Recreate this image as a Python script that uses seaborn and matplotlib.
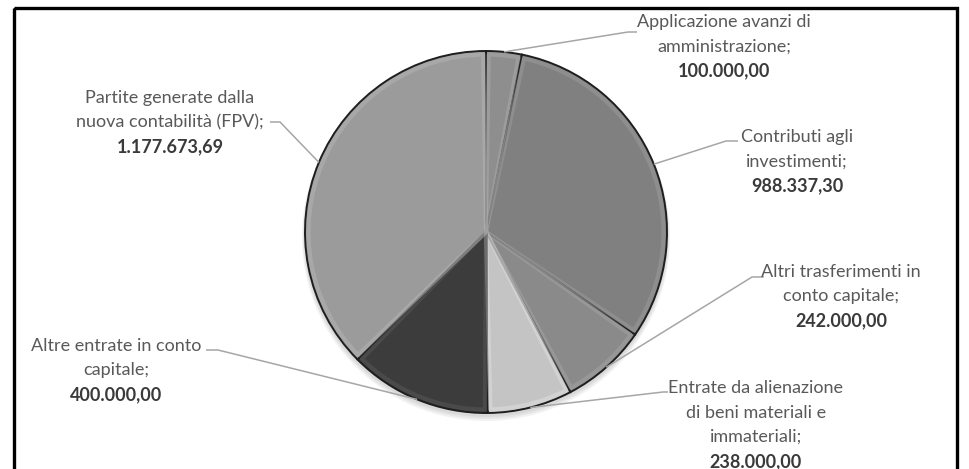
import matplotlib
matplotlib.use("Agg")
import matplotlib.pyplot as plt
import seaborn as sns
import numpy as np
from matplotlib.patches import Rectangle, Wedge
from matplotlib.colors import to_rgb

# Entrate in conto capitale: voci e importi (euro)
categories = [
    "Applicazione avanzi di\namministrazione;",
    "Contributi agli\ninvestimenti;",
    "Altri trasferimenti in\nconto capitale;",
    "Entrate da alienazione\ndi beni materiali e\nimmateriali;",
    "Altre entrate in conto\ncapitale;",
    "Partite generate dalla\nnuova contabilità (FPV);",
]
values = [100000.00, 988337.30, 242000.00, 238000.00, 400000.00, 1177673.69]
slice_colors = ["#8e8e8e", "#808080", "#8a8a8a", "#c4c4c4", "#3c3c3c", "#9b9b9b"]


def fmt_it(v):
    s = f"{v:,.2f}"
    return s.replace(",", "X").replace(".", ",").replace("X", ".")


# label placement in pixel space: (text centre x, first line y, elbow x, elbow y, line end x)
label_layout = [
    (724, 22, 628, 32, 637),
    (797, 137, 726, 141, 738),
    (841, 272, 752, 277, 764),
    (756, 388, 663, 392, 668),
    (116, 346, 218, 350, 206),
    (170, 98, 280, 122, 270),
]

sns.set_theme(style="white")
plt.rcParams["font.family"] = ["Lato", "DejaVu Sans"]

W, H = 969, 469
fig = plt.figure(figsize=(W / 100, H / 100), dpi=100)
ax = fig.add_axes([0, 0, 1, 1])

cx, cy, R = 486, 232, 181

# faint drop shadow under the pie
for k, a in enumerate([0.05, 0.05, 0.05]):
    ax.add_patch(Wedge((cx, cy + 3 + k), R + 1 + k, 0, 360, facecolor="black",
                       edgecolor="none", alpha=a, zorder=0.5))

palette = sns.color_palette(slice_colors)
wedges, _ = ax.pie(
    values,
    colors=palette,
    startangle=-90,
    counterclock=True,
    center=(cx, cy),
    radius=R,
    wedgeprops=dict(edgecolor="#1e1e1e", linewidth=1.4),
    frame=True,
)

# soft bevel: lighter rim just inside each slice
for w, col in zip(wedges, palette):
    light = tuple(min(1.0, c + 0.10) for c in to_rgb(col))
    ax.add_patch(Wedge((cx, cy), R - 3.5, w.theta1 + 0.9, w.theta2 - 0.9,
                       facecolor="none", edgecolor=light, linewidth=3.0,
                       alpha=0.55, zorder=w.get_zorder() + 0.1,
                       joinstyle="round"))

ax.set_xlim(0, W)
ax.set_ylim(H, 0)
ax.set_aspect("auto")
ax.axis("off")

line_color = "#a6a6a6"
name_color = "#595959"
value_color = "#3a3a3a"
pitch = 24.5

for w, name, val, (tx, ty, ex, ey, lx) in zip(wedges, categories, values, label_layout):
    mid = np.deg2rad((w.theta1 + w.theta2) / 2)
    px = cx + R * np.cos(mid)
    py = cy + R * np.sin(mid)
    ax.plot([px, ex, lx], [py, ey, ey], color=line_color, lw=1.1, zorder=1,
            solid_capstyle="butt")
    lines = name.split("\n")
    for i, ln in enumerate(lines):
        ax.text(tx, ty + i * pitch, ln, ha="center", va="center",
                fontsize=13, color=name_color)
    ax.text(tx, ty + len(lines) * pitch, fmt_it(val), ha="center", va="center",
            fontsize=13, color=value_color, fontweight="bold")

ax.add_patch(Rectangle((14.5, 8.5), 942.5, 500, fill=False, edgecolor="black",
                       linewidth=2.4, clip_on=False, zorder=5))

fig.savefig("out.png", dpi=100, facecolor="white")
